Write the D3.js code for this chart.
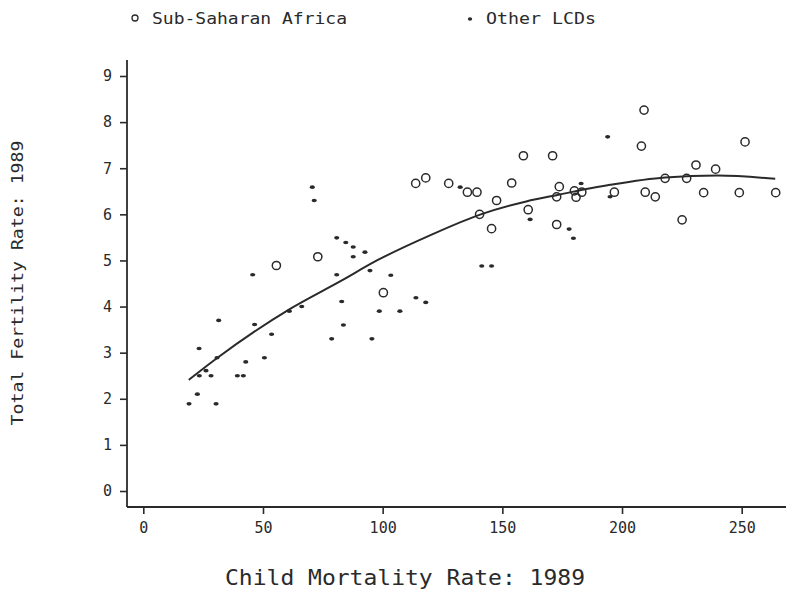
<!DOCTYPE html>
<html>
<head>
<meta charset="utf-8">
<script src="https://cdn.jsdelivr.net/npm/d3@7"></script>
<style>
  body { margin: 0; background: #fff; }
  text { font-family: "DejaVu Sans Mono", "Liberation Mono", monospace; fill: #2a2a2a; }
</style>
</head>
<body>
<div id="chart"></div>
<script>
// Sub-Saharan Africa (open circles)
const ssaMortality = [55.6, 72.9, 100.3, 113.8, 118.0, 127.6, 135.4, 139.4, 140.5, 147.6, 145.5, 153.9, 158.8, 160.8,
    171.0, 173.8, 172.7, 172.7, 180.1, 180.8, 183.2, 196.8, 209.2, 208.1, 209.7, 213.9, 218.0, 227.0, 225.1,
    230.9, 234.1, 239.1, 251.4, 249.0, 264.2];
const ssaFertility = [4.89, 5.08, 4.30, 6.67, 6.79, 6.67, 6.48, 6.48, 6.00, 6.30, 5.69, 6.68, 7.27, 6.10,
    7.27, 6.60, 6.38, 5.78, 6.51, 6.37, 6.48, 6.48, 8.26, 7.48, 6.48, 6.38, 6.78, 6.78, 5.88,
    7.07, 6.47, 6.98, 7.57, 6.47, 6.47];

// Other LCDs (small dots)
const lcdMortality = [19.1, 22.6, 23.3, 23.4, 26.2, 28.3, 30.4, 30.8, 31.5, 39.3, 41.8, 42.8, 45.7, 46.5, 50.6,
    53.6, 61.0, 66.2, 70.6, 71.4, 78.7, 80.8, 80.8, 82.9, 83.6, 84.6, 87.7, 87.7, 92.6, 94.7, 95.5, 98.6,
    103.4, 107.2, 113.9, 118.0, 132.4, 141.4, 145.5, 161.6, 177.9, 179.7, 182.9, 194.0, 195.0];
const lcdFertility = [1.89, 2.10, 3.09, 2.50, 2.61, 2.50, 1.89, 2.89, 3.70, 2.50, 2.50, 2.80, 4.69, 3.61, 2.89,
    3.40, 3.90, 4.00, 6.59, 6.30, 3.30, 4.69, 5.49, 4.11, 3.60, 5.39, 5.29, 5.08, 5.18, 4.78, 3.30, 3.90,
    4.68, 3.90, 4.19, 4.09, 6.59, 4.88, 4.88, 5.89, 5.68, 5.48, 6.67, 7.68, 6.38];

// fitted curve
const fitMortality = [19, 31, 61, 82, 98, 120, 141, 160, 173, 195, 218, 240, 264];
const fitFertility = [2.41, 2.89, 3.94, 4.54, 5.01, 5.55, 6.00, 6.28, 6.42, 6.64, 6.80, 6.84, 6.77];

const xTicks = [0, 50, 100, 150, 200, 250];
const yTicks = [0, 1, 2, 3, 4, 5, 6, 7, 8, 9];

const W = 786, H = 589;
const ink = "#2a2a2a";

const svg = d3.select("#chart").append("svg")
    .attr("width", W)
    .attr("height", H);

const x = d3.scaleLinear().domain([0, 250]).range([143.3, 741.7]);
const y = d3.scaleLinear().domain([0, 9]).range([491, 76]);

const axisX = 127, axisY = 507;

// axis lines
svg.append("line")
    .attr("x1", axisX).attr("x2", axisX)
    .attr("y1", 60).attr("y2", axisY)
    .attr("stroke", ink).attr("stroke-width", 1.8);
svg.append("line")
    .attr("x1", axisX).attr("x2", W)
    .attr("y1", axisY).attr("y2", axisY)
    .attr("stroke", ink).attr("stroke-width", 1.8);

// y axis
const gy = svg.append("g")
    .attr("transform", "translate(" + axisX + ",0)")
    .call(d3.axisLeft(y).tickValues(yTicks).tickSize(7).tickPadding(8));
gy.select(".domain").remove();
gy.selectAll(".tick line").attr("stroke", ink).attr("stroke-width", 1.6);
gy.selectAll(".tick text")
    .style("font-family", "DejaVu Sans Mono")
    .style("font-size", "15px")
    .attr("fill", ink);

// x axis
const gx = svg.append("g")
    .attr("transform", "translate(0," + axisY + ")")
    .call(d3.axisBottom(x).tickValues(xTicks).tickSize(7).tickPadding(8));
gx.select(".domain").remove();
gx.selectAll(".tick line").attr("stroke", ink).attr("stroke-width", 1.6);
gx.selectAll(".tick text")
    .style("font-family", "DejaVu Sans Mono")
    .style("font-size", "15px")
    .attr("fill", ink);

// fitted curve
const fit = fitMortality.map((m, i) => [m, fitFertility[i]]);
svg.append("path")
    .datum(fit)
    .attr("fill", "none")
    .attr("stroke", ink)
    .attr("stroke-width", 2)
    .attr("d", d3.line()
        .x(d => x(d[0]))
        .y(d => y(d[1]))
        .curve(d3.curveMonotoneX));

// Sub-Saharan Africa circles
const ssa = ssaMortality.map((m, i) => ({m: m, f: ssaFertility[i]}));
svg.append("g").selectAll("circle")
    .data(ssa)
    .enter()
    .append("circle")
    .attr("cx", d => x(d.m))
    .attr("cy", d => y(d.f))
    .attr("r", 4.1)
    .attr("fill", "none")
    .attr("stroke", ink)
    .attr("stroke-width", 1.5);

// Other LCDs dots
const lcd = lcdMortality.map((m, i) => ({m: m, f: lcdFertility[i]}));
svg.append("g").selectAll("ellipse")
    .data(lcd)
    .enter()
    .append("ellipse")
    .attr("cx", d => x(d.m))
    .attr("cy", d => y(d.f))
    .attr("rx", 2.6)
    .attr("ry", 1.8)
    .attr("fill", ink);

// legend
svg.append("circle")
    .attr("cx", 135).attr("cy", 18).attr("r", 3)
    .attr("fill", "none").attr("stroke", ink).attr("stroke-width", 1.3);
svg.append("text")
    .attr("x", 152).attr("y", 24)
    .attr("textLength", 195).attr("lengthAdjust", "spacingAndGlyphs")
    .style("font-size", "16px")
    .text("Sub-Saharan Africa");
svg.append("ellipse")
    .attr("cx", 470).attr("cy", 19).attr("rx", 2.2).attr("ry", 1.7)
    .attr("fill", ink);
svg.append("text")
    .attr("x", 486).attr("y", 24)
    .attr("textLength", 110).attr("lengthAdjust", "spacingAndGlyphs")
    .style("font-size", "16px")
    .text("Other LCDs");

// axis titles
svg.append("text")
    .attr("x", 405).attr("y", 585)
    .attr("text-anchor", "middle")
    .attr("textLength", 360).attr("lengthAdjust", "spacingAndGlyphs")
    .style("font-size", "22px")
    .text("Child Mortality Rate: 1989");
svg.append("text")
    .attr("transform", "translate(23,283) rotate(-90)")
    .attr("text-anchor", "middle")
    .attr("textLength", 285).attr("lengthAdjust", "spacingAndGlyphs")
    .style("font-size", "16px")
    .text("Total Fertility Rate: 1989");
</script>
</body>
</html>
